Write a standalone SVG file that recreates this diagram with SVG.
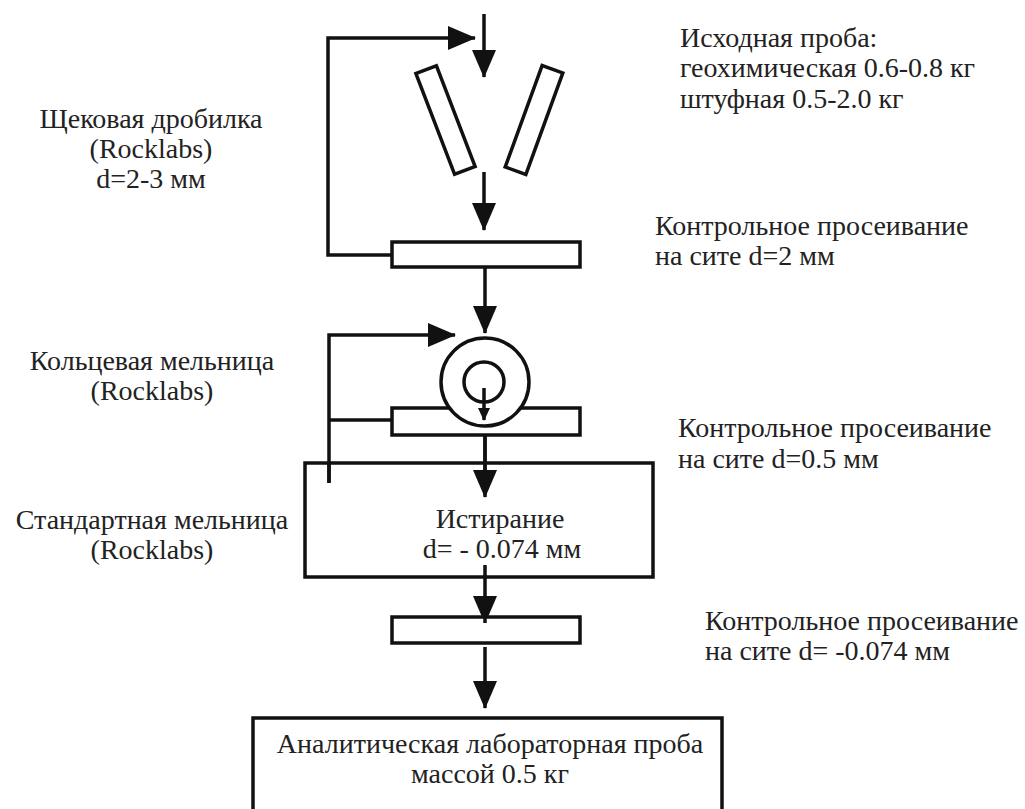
<svg xmlns="http://www.w3.org/2000/svg" width="1025" height="809" viewBox="0 0 1025 809">
<style>
.ln{fill:none;stroke:#111;stroke-width:3.5}
.bx{fill:#fff;stroke:#111;stroke-width:3.5}
.c{text-anchor:middle}
</style>
<defs>
<marker id="ah" markerUnits="userSpaceOnUse" markerWidth="28" markerHeight="24" refX="27" refY="12" orient="auto">
<path d="M0,0 L28,12 L0,24 z" fill="#111"/>
</marker>
<marker id="ahs" markerUnits="userSpaceOnUse" markerWidth="13" markerHeight="12" refX="12" refY="6" orient="auto">
<path d="M0,0 L13,6 L0,12 z" fill="#111"/>
</marker>
</defs>
<rect width="1025" height="809" fill="#fff"/>

<g id="connectors">
<line class="ln" x1="484" y1="14" x2="484" y2="77" marker-end="url(#ah)"/>
<polyline class="ln" points="392,255 328,255 328,38 475,38" marker-end="url(#ah)"/>
<line class="ln" x1="484" y1="172" x2="484" y2="230" marker-end="url(#ah)"/>
<line class="ln" x1="485" y1="267" x2="485" y2="333" marker-end="url(#ah)"/>
<polyline class="ln" points="329,483 329,335 455,335" marker-end="url(#ah)"/>
<line class="ln" x1="329" y1="420" x2="392" y2="420"/>
<line class="ln" x1="485" y1="435" x2="485" y2="497" marker-end="url(#ah)"/>
<line class="ln" x1="485" y1="565" x2="485" y2="623" marker-end="url(#ah)"/>
<line class="ln" x1="485" y1="647" x2="485" y2="708" marker-end="url(#ah)"/>
</g>

<g id="jaw-crusher">
<rect class="bx" x="-11" y="-54" width="22" height="108" transform="translate(445.5,120) rotate(-21)"/>
<rect class="bx" x="-11" y="-54" width="22" height="108" transform="translate(534,120) rotate(20)"/>
</g>

<g id="sieve-1">
<rect class="bx" x="392" y="242" width="188" height="25"/>
</g>

<g id="sieve-2">
<rect class="bx" x="392" y="408" width="188" height="27"/>
</g>

<g id="ring-mill">
<circle class="bx" cx="485" cy="382" r="44"/>
<circle class="ln" cx="484" cy="382" r="20"/>
<line class="ln" x1="484" y1="388" x2="484" y2="420" stroke-width="2" marker-end="url(#ahs)"/>
</g>

<g font-family="Liberation Serif, Times New Roman, DejaVu Serif, serif" font-size="28" fill="#222">
<g id="standard-mill">
<rect class="ln" x="305" y="463" width="348" height="114"/>
<line class="ln" x1="485" y1="435" x2="485" y2="472"/>
<line class="ln" x1="329" y1="463" x2="329" y2="483"/>
<text class="c" x="500" y="528">Истирание</text>
<text class="c" x="502" y="558">d= - 0.074 мм</text>
</g>

<g id="sieve-3">
<rect class="bx" x="392" y="617" width="188" height="26"/>
<line class="ln" x1="485" y1="597" x2="485" y2="623"/>
</g>

<g id="lab-sample">
<rect class="ln" x="253" y="718" width="469" height="110"/>
<text class="c" x="490" y="753">Аналитическая лабораторная проба</text>
<text class="c" x="490" y="783">массой 0.5 кг</text>
</g>

<g id="labels">
<text x="680" y="47">Исходная проба:</text>
<text x="680" y="77">геохимическая 0.6-0.8 кг</text>
<text x="680" y="108">штуфная 0.5-2.0 кг</text>
<text class="c" x="151" y="128">Щековая дробилка</text>
<text class="c" x="151" y="158">(Rocklabs)</text>
<text class="c" x="151" y="188">d=2-3 мм</text>
<text x="655" y="235">Контрольное просеивание</text>
<text x="655" y="265">на сите d=2 мм</text>
<text class="c" x="152" y="370">Кольцевая мельница</text>
<text class="c" x="152" y="400">(Rocklabs)</text>
<text x="678" y="437">Контрольное просеивание</text>
<text x="678" y="468">на сите d=0.5 мм</text>
<text class="c" x="152" y="529">Стандартная мельница</text>
<text class="c" x="152" y="559">(Rocklabs)</text>
<text x="705" y="630">Контрольное просеивание</text>
<text x="705" y="660">на сите d= -0.074 мм</text>
</g>
</g>
</svg>
